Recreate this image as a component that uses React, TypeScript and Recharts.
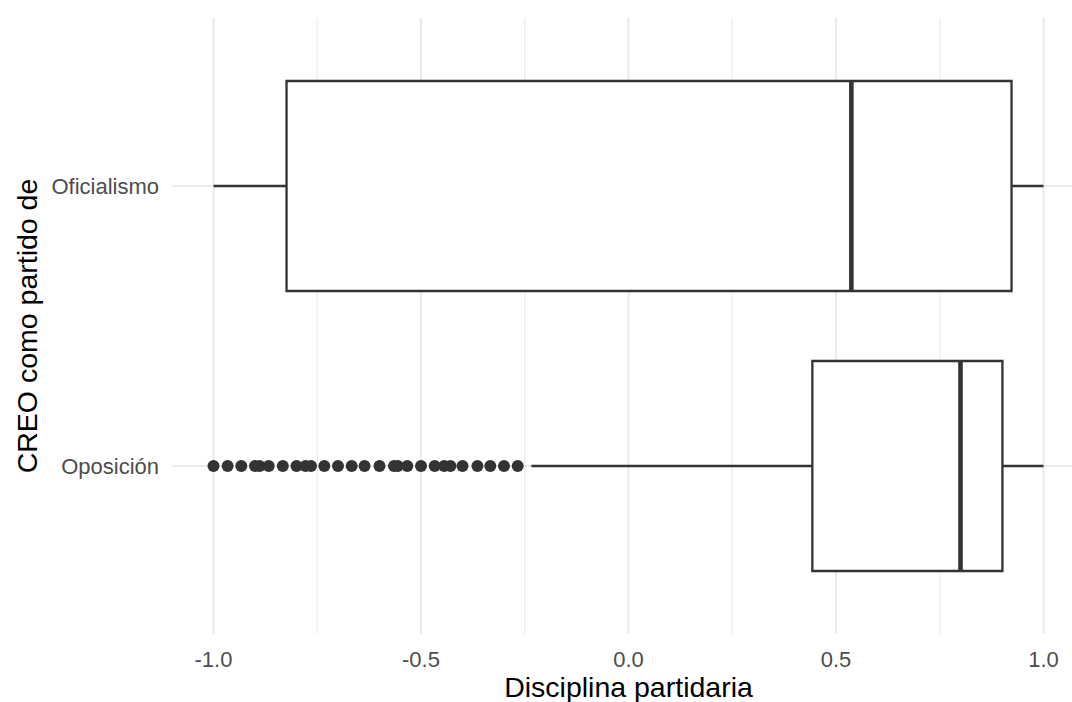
import React from 'react'
import {
  ScatterChart,
  Scatter,
  XAxis,
  YAxis,
  CartesianGrid,
  ReferenceArea,
  ReferenceLine,
} from 'recharts'

// boxplot stats per group (y position 1 = Oposición, 2 = Oficialismo)
const categories = ['Oposición', 'Oficialismo']
const positions = [1, 2]
const whiskerLow = [-0.234, -1.0]
const q1 = [0.443, -0.824]
const medians = [0.8, 0.537]
const q3 = [0.901, 0.923]
const whiskerHigh = [1.0, 1.0]

// outliers of Oposición
const outliers = [
  -1.0, -0.966, -0.933, -0.9, -0.889, -0.867, -0.833, -0.8, -0.778, -0.765,
  -0.733, -0.7, -0.667, -0.636, -0.6, -0.565, -0.556, -0.533, -0.5, -0.467,
  -0.444, -0.429, -0.4, -0.364, -0.333, -0.3, -0.267,
]

const xTicks = [-1, -0.5, 0, 0.5, 1]
const xMinorTicks = [-0.75, -0.25, 0.25, 0.75]

const BOX_HALF = 0.375
const INK = '#333333'
const FONT = '"Liberation Sans", Arial, Helvetica, sans-serif'

export default function App() {
  const outlierData = outliers.map((v) => ({ x: v, y: positions[0] }))

  return (
    <div style={{ position: 'absolute', left: 0, top: 0, width: 1072, height: 702, overflow: 'hidden', background: '#fff' }}>
      <ScatterChart
        width={1085}
        height={702}
        margin={{ top: 18, right: 0, left: 0, bottom: 0 }}
        style={{ fontFamily: FONT }}
      >
        <CartesianGrid stroke="#ebebeb" strokeWidth={2.2} syncWithTicks />
        <XAxis
          type="number"
          dataKey="x"
          domain={[-1.1, 1.1]}
          ticks={xTicks}
          tickFormatter={(v: number) => v.toFixed(1)}
          axisLine={false}
          tickLine={false}
          tickSize={0}
          tickMargin={17}
          height={68}
          tick={{ fill: '#4d4d4d', fontSize: 22, fontFamily: FONT }}
          label={{
            value: 'Disciplina partidaria',
            position: 'insideBottom',
            offset: 5,
            fill: '#000',
            fontSize: 28.5,
            fontFamily: FONT,
          }}
        />
        <YAxis
          type="number"
          dataKey="y"
          domain={[0.4, 2.6]}
          ticks={positions}
          tickFormatter={(v: number) => categories[positions.indexOf(v)] ?? ''}
          width={172}
          axisLine={false}
          tickLine={false}
          tickSize={0}
          tickMargin={13}
          tick={{ fill: '#4d4d4d', fontSize: 22, fontFamily: FONT }}
          label={{
            value: 'CREO como partido de',
            angle: -90,
            position: 'insideLeft',
            offset: 27,
            fill: '#000',
            fontSize: 28.5,
            fontFamily: FONT,
            style: { textAnchor: 'middle' },
          }}
        />

        {/* minor vertical gridlines, kept under the boxes */}
        {xMinorTicks.map((v) => (
          <ReferenceLine key={`minor-${v}`} x={v} stroke="#ebebeb" strokeWidth={1.2} zIndex={-50} />
        ))}

        {positions.map((p, i) => (
          <ReferenceLine
            key={`wl-${i}`}
            segment={[{ x: whiskerLow[i], y: p }, { x: q1[i], y: p }]}
            stroke={INK}
            strokeWidth={2.3}
          />
        ))}
        {positions.map((p, i) => (
          <ReferenceLine
            key={`wh-${i}`}
            segment={[{ x: q3[i], y: p }, { x: whiskerHigh[i], y: p }]}
            stroke={INK}
            strokeWidth={2.3}
          />
        ))}
        {positions.map((p, i) => (
          <ReferenceArea
            key={`box-${i}`}
            x1={q1[i]}
            x2={q3[i]}
            y1={p - BOX_HALF}
            y2={p + BOX_HALF}
            fill="#ffffff"
            fillOpacity={1}
            stroke={INK}
            strokeWidth={2.3}
          />
        ))}
        {positions.map((p, i) => (
          <ReferenceLine
            key={`med-${i}`}
            segment={[{ x: medians[i], y: p - BOX_HALF }, { x: medians[i], y: p + BOX_HALF }]}
            stroke={INK}
            strokeWidth={4.6}
          />
        ))}

        <Scatter
          data={outlierData}
          isAnimationActive={false}
          shape={(props: any) => <circle cx={props.cx} cy={props.cy} r={6} fill={INK} />}
        />
      </ScatterChart>
    </div>
  )
}
